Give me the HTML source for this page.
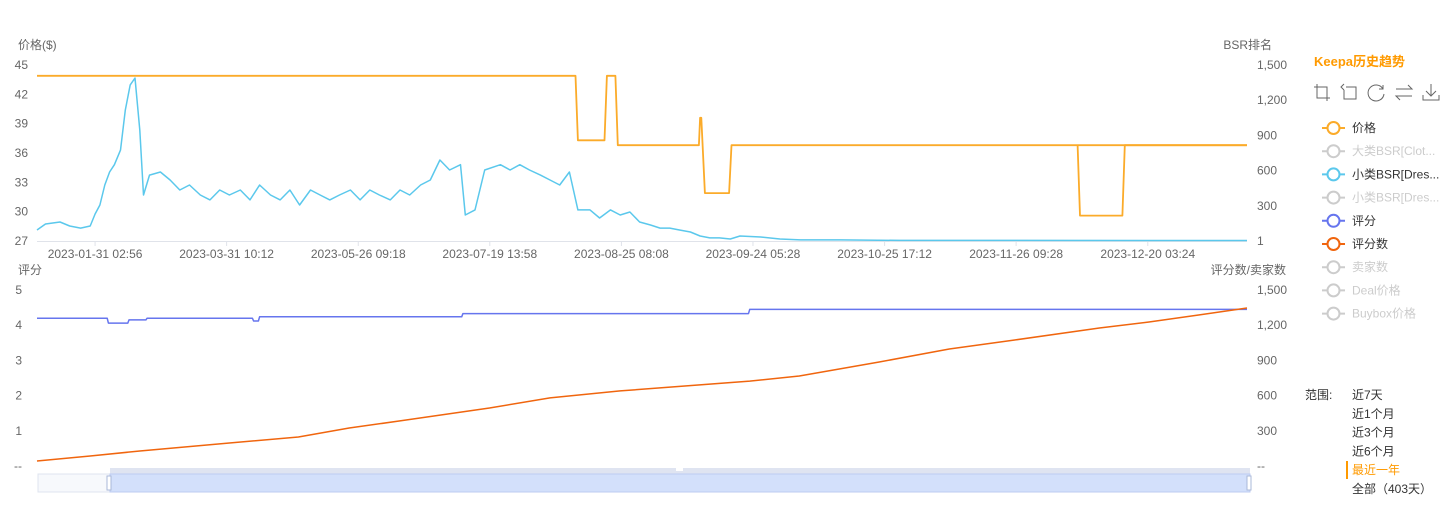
<!DOCTYPE html>
<html><head><meta charset="utf-8">
<style>
body{margin:0;background:#fff;width:1444px;height:502px;overflow:hidden;font-family:"Liberation Sans","Noto Sans CJK SC",sans-serif;}
svg text{font-family:"Liberation Sans","Noto Sans CJK SC",sans-serif;}
</style></head><body>
<svg id="c" width="1444" height="502"></svg>
<script>
// ---- data ----
const xLabels=["2023-01-31 02:56","2023-03-31 10:12","2023-05-26 09:18","2023-07-19 13:58","2023-08-25 08:08","2023-09-24 05:28","2023-10-25 17:12","2023-11-26 09:28","2023-12-20 03:24"];
const xLabelPos=[48,156.7,265.5,374.2,483,591.7,700.5,809.2,918];
const priceTicks=[27,30,33,36,39,42,45];
const bsrTickLabels=["1","300","600","900","1,200","1,500"];
const bsrTickVals=[0,300,600,900,1200,1500];
const rateTicks=["--","1","2","3","4","5"];
const countTickLabels=["--","300","600","900","1,200","1,500"];
const priceT=[0,445,447,469,471,478,480,547,548,549,552,572,574,1000];
const priceV=[43.9,43.9,37.3,37.3,43.9,43.9,36.8,36.8,39.6,39.6,31.9,31.9,36.8,36.8];
const price2T=[860,862,897,899,1000];
const price2V=[36.8,29.6,29.6,36.8,36.8];
const bsrT=[0,7,19,27,36,44,48,52,56,60,64,69,73,77,81,85,88,93,102,110,118,126,135,143,151,159,168,176,184,193,201,209,217,226,234,242,250,259,267,275,283,292,300,308,317,325,333,341,350,354,362,370,383,391,399,407,416,424,432,440,447,457,465,474,482,490,498,507,515,523,531,540,548,556,564,573,581,598,614,631,664,713,796,1000];
const bsrV=[94,145,162,128,110,128,230,307,477,588,650,775,1116,1330,1389,945,392,562,588,520,435,477,392,350,435,392,435,350,477,392,350,435,307,435,392,350,392,435,350,435,392,350,435,392,477,520,690,605,650,222,265,605,650,605,650,605,562,520,477,588,265,265,196,265,222,247,162,136,110,110,94,77,43,26,26,17,43,34,17,9,9,5,5,4];
const rateT=[0,58,59,75,76,90,91,178,179,183,184,351,352,588,589,1000];
const rateV=[4.2,4.2,4.06,4.06,4.15,4.15,4.2,4.2,4.12,4.12,4.24,4.24,4.33,4.33,4.45,4.45];
const countT=[0,44,85,159,216,258,300,374,424,482,589,630,696,754,808,878,919,960,1000];
const countV=[43,85,128,196,247,324,384,494,580,640,724,767,886,997,1074,1176,1227,1287,1347];

// ---- scales ----
const X0=37,X1=1247;
const x=t=>X0+(X1-X0)*t/1000;
const yP=v=>241-(v-27)/18*176;
const yB=v=>241-v/1500*176;
const yR=v=>466-v/5*176;
const yC=v=>466-v/1500*176;
const svg=document.getElementById('c');
const NS="http://www.w3.org/2000/svg";
function el(tag,attrs,parent){const e=document.createElementNS(NS,tag);for(const k in attrs)e.setAttribute(k,attrs[k]);(parent||svg).appendChild(e);return e;}
function txt(s,attrs){const e=el('text',attrs);e.textContent=s;return e;}

let t;
t=txt("价格($)",{x:18,y:49,'font-size':12,fill:'#666'});

t=txt("BSR排名",{x:1272,y:49,'font-size':12,fill:'#666','text-anchor':'end'});

t=txt("评分",{x:18,y:274,'font-size':12,fill:'#666'});

t=txt("评分数/卖家数",{x:1286,y:274,'font-size':12,fill:'#666','text-anchor':'end'});


priceTicks.forEach(v=>{const e=txt(String(v),{x:28,y:yP(v)+4,'font-size':12,fill:'#666','text-anchor':'end'});
});
bsrTickVals.forEach((v,i)=>{const e=txt(bsrTickLabels[i],{x:1257,y:yB(v)+4,'font-size':12,fill:'#666'});
});
rateTicks.forEach((s,i)=>{const e=txt(s,{x:22,y:yR(i)+4,'font-size':12,fill:'#666','text-anchor':'end'});
});
countTickLabels.forEach((s,i)=>{const e=txt(s,{x:1257,y:yC(i*300)+4,'font-size':12,fill:'#666'});
});

let a=el('line',{x1:X0,x2:X1,y1:241.5,y2:241.5,stroke:'#e0e3ea'});

xLabels.forEach((s,i)=>{const px=x(xLabelPos[i]);
el('line',{x1:px,x2:px,y1:241,y2:246,stroke:'#e0e3ea'});
const e=txt(s,{x:px,y:258,'font-size':12,fill:'#666','text-anchor':'middle'});
});

function path(T,V,ys,color,name,w){
 const d=T.map((tt,i)=>(i?'L':'M')+x(tt).toFixed(1)+','+ys(V[i]).toFixed(1)).join('');
 const p=el('path',{d:d,fill:'none',stroke:color,'stroke-width':w||1.5,'stroke-linejoin':'round'});
 return p;}
path(bsrT,bsrV,yB,'#5bc8ec','bsr-line');
path(priceT,priceV,yP,'#fbab2a','price-line',1.8);
path(price2T,price2V,yP,'#fbab2a','price-line-2',1.8);
path(rateT,rateV,yR,'#6675ee','rating-line');
path(countT,countV,yC,'#f0650e','rating-count-line');

const sl=el('g',{});
el('rect',{x:38,y:474,width:1212,height:18,fill:'#f7f9fc',stroke:'#dfe4ef'},sl);
el('rect',{x:110,y:468,width:1140,height:6,fill:'#dfe4f1'},sl);
el('rect',{x:110,y:474,width:1140,height:18,fill:'#d3e0fb',stroke:'#bccbf2'},sl);
el('rect',{x:107,y:476,width:4,height:14,fill:'#fff',stroke:'#aab8d8'},sl);
el('rect',{x:1247,y:476,width:4,height:14,fill:'#fff',stroke:'#aab8d8'},sl);
el('rect',{x:676,y:468,width:7,height:3,fill:'#fff'},sl);

t=txt("Keepa历史趋势",{x:1314,y:66,'font-size':13,'font-weight':'bold',fill:'#ff9a00'});

["zoom-icon","zoom-reset-icon","restore-icon","switch-icon","download-icon"].forEach((n,i)=>{
 const g=el('g',{transform:'translate('+(1314+i*27)+',84)'});
 
 if(i==0){el('path',{d:'M3,0V14H16M0,3H13V17',fill:'none',stroke:'#666'},g);}
 else if(i==1){el('path',{d:'M5,3H15V15H3V6M3,0L0,3L3,6',fill:'none',stroke:'#666'},g);}
 else if(i==2){el('path',{d:'M15,5A8,8 0 1 0 16,10M15,1V5H11',fill:'none',stroke:'#666'},g);}
 else if(i==3){el('path',{d:'M1,5H17L13,1M17,12H1L5,16',fill:'none',stroke:'#666'},g);}
 else {el('path',{d:'M9,0V12M4,7L9,12L14,7M1,11V16H17V11',fill:'none',stroke:'#666'},g);}
});
const legNames=["价格","大类BSR[Clot...","小类BSR[Dres...","小类BSR[Dres...","评分","评分数","卖家数","Deal价格","Buybox价格"];
const legColors=["#fbab2a","#ccc","#5bc8ec","#ccc","#6675ee","#f0650e","#ccc","#ccc","#ccc"];
const legTxt=["#333","#ccc","#333","#ccc","#333","#333","#ccc","#ccc","#ccc"];
legNames.forEach((s,i)=>{const y=128+i*23.2;
 const g=el('g',{});
 el('line',{x1:1322,x2:1345,y1:y,y2:y,stroke:legColors[i],'stroke-width':2},g);
 el('circle',{cx:1333.5,cy:y,r:6,fill:'#fff',stroke:legColors[i],'stroke-width':2},g);
 const e=el('text',{x:1352,y:y+4,'font-size':12,fill:legTxt[i]},g);e.textContent=s;});

t=txt("范围:",{x:1305,y:399,'font-size':12,fill:'#333'});

["近7天","近1个月","近3个月","近6个月","最近一年","全部（403天）"].forEach((s,i)=>{
 const y=399+i*18.8;
 const e=txt(s,{x:1352,y:y,'font-size':12,fill:i==4?'#ff9a00':'#333'});
 });
el('rect',{x:1346,y:461,width:2,height:18,fill:'#ff9a00'});
</script>
</body></html>
